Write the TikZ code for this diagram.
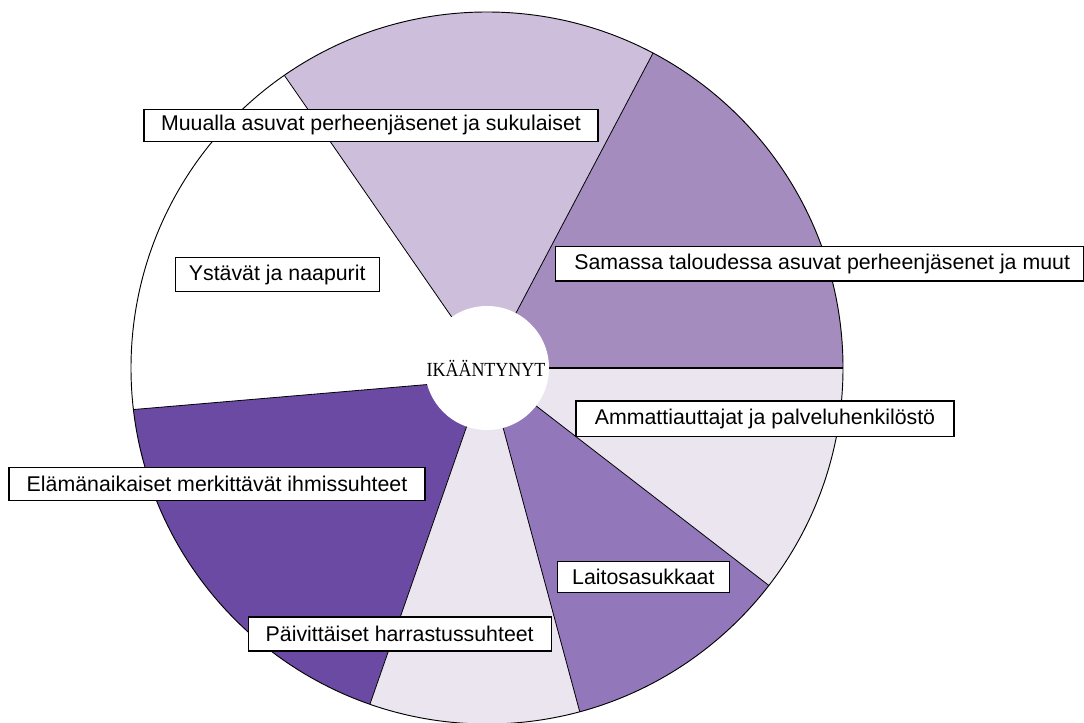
\documentclass[tikz,border=0pt]{standalone}
\usepackage{fontspec}
\setmainfont{Liberation Sans}
\newfontfamily\centrefont{Liberation Serif}
\usetikzlibrary{calc}
\definecolor{cSam}{HTML}{A48CBF}
\definecolor{cMuu}{HTML}{CDBFDB}
\definecolor{cEla}{HTML}{6B4AA3}
\definecolor{cLai}{HTML}{9377BB}
\definecolor{cPale}{HTML}{EAE5EF}
\tikzset{
  lbl/.style={draw=black, line width=0.8pt, fill=white, inner sep=0pt,
    font=\fontsize{16}{18}\selectfont},
  seg/.style={draw=black, line width=0.6pt},
  rim/.style={draw=black, line width=0.7pt},
}
\begin{document}
\begin{tikzpicture}[x=0.75pt,y=0.75pt]
\useasboundingbox (0,0) rectangle (1084,722);
\def\R{356}
\coordinate (C) at (487,354);
\coordinate (b0) at ($(C)+(0:\R)$);
\coordinate (b1) at ($(C)+(62.2:\R)$);
\coordinate (b2) at ($(C)+(124.7:\R)$);
\coordinate (b3) at ($(C)+(186.7:\R)$);
\coordinate (pin) at (421.7,337);
\coordinate (b3i) at ($(b3)!1.1!(pin)$);
\coordinate (b4) at ($(C)+(250.8:\R)$);
\coordinate (b5) at ($(C)+(285.1:\R)$);
\coordinate (b6) at ($(C)+(322.35:\R)$);
% slices
\fill[cSam] (C) -- (b0) arc[start angle=0,end angle=62.2,radius=\R] -- cycle;
\fill[cMuu] (C) -- (b1) arc[start angle=62.2,end angle=124.7,radius=\R] -- cycle;
\fill[cEla] (b3i) -- (b3) arc[start angle=186.7,end angle=250.8,radius=\R] -- (C) -- cycle;
\fill[cPale] (C) -- (b4) arc[start angle=250.8,end angle=285.1,radius=\R] -- cycle;
\fill[cLai] (C) -- (b5) arc[start angle=285.1,end angle=322.35,radius=\R] -- cycle;
\fill[cPale] (C) -- (b6) arc[start angle=322.35,end angle=360,radius=\R] -- cycle;
% boundaries
\draw[seg] (C) -- (b1);
\draw[seg] (C) -- (b2);
\draw[seg] (b3i) -- (b3);
\draw[seg] (C) -- (b4);
\draw[seg] (C) -- (b5);
\draw[seg] (C) -- (b6);
\draw[draw=black, line width=1.2pt] (C) -- (b0);
% centre
\fill[white] (C) circle[radius=62];
\draw[rim] (C) circle[radius=\R];
\node[font=\centrefont\fontsize{15}{15}\selectfont, xscale=0.9, anchor=base, inner sep=0pt] (centre) at (486,346) {IKÄÄNTYNYT};
% labels
\node[lbl, minimum width=340.5pt, minimum height=23.8pt] (muualla) at (371,596.8) {Muualla asuvat perheenjäsenet ja sukulaiset};
\node[lbl, minimum width=395.7pt, minimum height=25.7pt] (samassa) at (819.5,458.1) {\hspace*{4pt}Samassa taloudessa asuvat perheenjäsenet ja muut};
\node[lbl, minimum width=153pt, minimum height=25.5pt] (ystavat) at (277.2,447.3) {Ystävät ja naapurit};
\node[lbl, minimum width=283.5pt, minimum height=26.3pt] (ammatti) at (765,303.5) {Ammattiauttajat ja palveluhenkilöstö};
\node[lbl, minimum width=312pt, minimum height=24.5pt] (elaman) at (217,238.3) {Elämänaikaiset merkittävät ihmissuhteet};
\node[lbl, minimum width=129pt, minimum height=23.3pt] (laitos) at (643.3,144.8) {Laitosasukkaat};
\node[lbl, minimum width=227pt, minimum height=25.5pt] (paivittaiset) at (399.7,88) {Päivittäiset harrastussuhteet};
\end{tikzpicture}
\end{document}
